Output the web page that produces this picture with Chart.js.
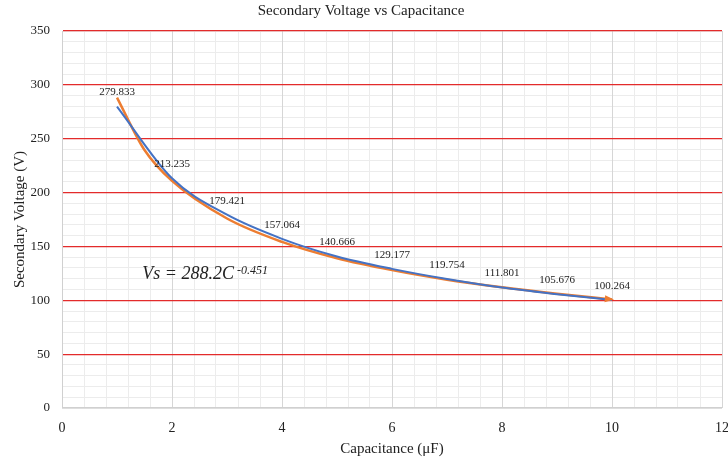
<!DOCTYPE html>
<html>
<head>
<meta charset="utf-8">
<script src="https://cdn.jsdelivr.net/npm/chart.js@4"></script>
<style>
  body { margin: 0; background: #fff; }
  #wrap { width: 728px; height: 462px; }
</style>
</head>
<body>
<div id="wrap"><canvas id="chart" width="728" height="462"></canvas></div>
<script>
// -----------------------------
// DATA
// -----------------------------
const capacitance = [1, 2, 3, 4, 5, 6, 7, 8, 9, 10];
const secondaryVoltage = [279.833, 213.235, 179.421, 157.064, 140.666, 129.177, 119.754, 111.801, 105.676, 100.264];
// power trendline
const trendX = [1, 1.5, 2, 3, 4, 5, 6, 7, 8, 9, 10];
const trendY = [288.2, 239.5, 210.8, 175.9, 154.2, 139.0, 128.0, 119.1, 112.0, 106.0, 100.8];
const xTicks = [0, 2, 4, 6, 8, 10, 12];
const yTicks = [0, 50, 100, 150, 200, 250, 300, 350];

const SERIF = "'Liberation Serif', 'DejaVu Serif', serif";
const BLUE = '#4472C4';
const ORANGE = '#ED7D31';

// labels above the measured points + equation + arrow head
const extras = {
    id: 'extras',
    afterDatasetsDraw(chart) {
        const ctx = chart.ctx;
        const xs = chart.scales.x;
        const ys = chart.scales.y;

        // arrow head at trendline end
        const tm = chart.getDatasetMeta(1).data;
        const p1 = tm[tm.length - 2], p2 = tm[tm.length - 1];
        const ang = Math.atan2(p2.y - p1.y, p2.x - p1.x);
        ctx.save();
        ctx.fillStyle = ORANGE;
        ctx.beginPath();
        ctx.moveTo(p2.x + 2, p2.y);
        ctx.lineTo(p2.x - 8 * Math.cos(ang - 0.45), p2.y - 8 * Math.sin(ang - 0.45));
        ctx.lineTo(p2.x - 8 * Math.cos(ang + 0.45), p2.y - 8 * Math.sin(ang + 0.45));
        ctx.closePath();
        ctx.fill();
        ctx.restore();

        // data labels
        ctx.save();
        ctx.font = '11px ' + SERIF;
        ctx.fillStyle = '#222';
        ctx.textAlign = 'center';
        ctx.textBaseline = 'middle';
        capacitance.forEach((c, i) => {
            const px = xs.getPixelForValue(c);
            const py = ys.getPixelForValue(secondaryVoltage[i]);
            ctx.fillText(secondaryVoltage[i].toFixed(3), px, py - 14);
        });
        ctx.restore();

        // equation
        ctx.save();
        ctx.fillStyle = '#222';
        ctx.textBaseline = 'middle';
        ctx.font = 'italic 18px ' + SERIF;
        const ex = xs.getPixelForValue(1.46);
        const ey = ys.getPixelForValue(124);
        const main = 'Vs = 288.2C';
        ctx.fillText(main, ex, ey);
        const w = ctx.measureText(main).width;
        ctx.font = 'italic 12px ' + SERIF;
        ctx.fillText(' -0.451', ex + w, ey - 4);
        ctx.restore();
    }
};

new Chart(document.getElementById('chart'), {
    type: 'scatter',
    data: {
        datasets: [
            {
                label: 'Secondary Voltage',
                data: capacitance.map((c, i) => ({ x: c, y: secondaryVoltage[i] })),
                showLine: true,
                borderColor: BLUE,
                borderWidth: 2,
                pointRadius: 0,
                cubicInterpolationMode: 'monotone'
            },
            {
                label: 'Power trendline',
                data: trendX.map((c, i) => ({ x: c, y: trendY[i] })),
                showLine: true,
                borderColor: ORANGE,
                borderWidth: 2.5,
                pointRadius: 0,
                cubicInterpolationMode: 'monotone'
            }
        ]
    },
    options: {
        responsive: false,
        animation: false,
        layout: { padding: { left: 0, right: 6, top: 0, bottom: 0 } },
        plugins: {
            legend: { display: false },
            tooltip: { enabled: false },
            title: {
                display: true,
                text: 'Secondary Voltage vs Capacitance',
                color: '#222',
                font: { family: SERIF, size: 15, weight: 'normal' },
                padding: { top: 2, bottom: 11 }
            }
        },
        scales: {
            xMinor: {
                type: 'linear', position: 'top', min: 0, max: 12, z: -1,
                ticks: { display: false, stepSize: 0.4 },
                grid: { color: '#ececec', drawTicks: false },
                border: { display: false },
                afterFit: s => { s.height = 0; }
            },
            yMinor: {
                type: 'linear', position: 'right', min: 0, max: 350, z: -1,
                ticks: { display: false, stepSize: 10 },
                grid: { color: '#ececec', drawTicks: false },
                border: { display: false },
                afterFit: s => { s.width = 0; }
            },
            x: {
                type: 'linear', min: 0, max: 12,
                afterBuildTicks: s => { s.ticks = xTicks.map(v => ({ value: v })); },
                ticks: { color: '#222', font: { family: SERIF, size: 14 }, padding: 12 },
                grid: { color: '#d6d6d6', drawTicks: false },
                border: { display: false },
                title: {
                    display: true, text: 'Capacitance (μF)', color: '#222',
                    font: { family: SERIF, size: 15 }, padding: { top: 2 }
                },
                afterFit: s => { s.height = 54; s.paddingLeft = 0; s.paddingRight = 0; }
            },
            y: {
                type: 'linear', min: 0, max: 350,
                afterBuildTicks: s => { s.ticks = yTicks.map(v => ({ value: v })); },
                ticks: { color: '#222', font: { family: SERIF, size: 13 }, padding: 12 },
                grid: {
                    color: c => (c.tick && c.tick.value === 0 ? '#d0d0d0' : '#e32b2b'),
                    lineWidth: c => (c.tick && c.tick.value === 0 ? 1.5 : 1.2),
                    drawTicks: false
                },
                border: { display: true, color: '#d0d0d0' },
                title: {
                    display: true, text: 'Secondary Voltage (V)', color: '#222',
                    font: { family: SERIF, size: 15 }, padding: { top: 11, bottom: 4 }
                },
                afterFit: s => { s.width = 62; s.paddingTop = 0; s.paddingBottom = 0; }
            }
        }
    },
    plugins: [extras]
});
</script>
</body>
</html>
